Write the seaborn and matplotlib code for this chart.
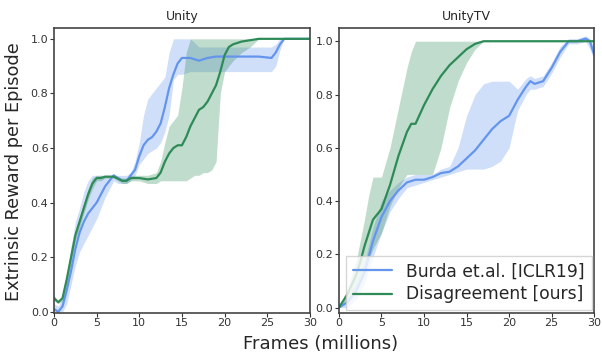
import pandas as pd
import seaborn as sns
import matplotlib.pyplot as plt

sns.set_style("ticks")
plt.rcParams['font.family'] = ['DejaVu Sans']

BLUE = "#6495ed"
GREEN = "#2e8b57"

# Unity - Burda et.al.
unity_burda_x = [0, 0.5, 1, 1.5, 2, 2.5, 3, 3.5, 4, 4.5, 5, 5.5, 6, 6.5, 7, 7.5, 8, 8.5, 9, 9.5, 10,
                 10.5, 11, 11.5, 12, 12.5, 13, 13.5, 14, 14.5, 15, 16, 17, 18, 19, 20, 22, 24, 25.5,
                 26, 26.5, 27, 28, 30]
unity_burda_mean = [0.01, 0.0, 0.02, 0.08, 0.15, 0.23, 0.29, 0.33, 0.36, 0.38, 0.40, 0.43, 0.46, 0.48,
                    0.50, 0.49, 0.48, 0.48, 0.50, 0.52, 0.57, 0.61, 0.63, 0.64, 0.66, 0.69, 0.75, 0.82,
                    0.87, 0.91, 0.93, 0.93, 0.92, 0.93, 0.935, 0.935, 0.935, 0.935, 0.93, 0.95, 0.98,
                    1.0, 1.0, 1.0]
unity_burda_lo = [0.0, 0.0, 0.0, 0.03, 0.1, 0.17, 0.22, 0.25, 0.28, 0.31, 0.34, 0.38, 0.42, 0.45, 0.48,
                  0.47, 0.47, 0.47, 0.48, 0.5, 0.54, 0.56, 0.58, 0.59, 0.6, 0.62, 0.66, 0.72, 0.85,
                  0.87, 0.87, 0.88, 0.88, 0.88, 0.88, 0.88, 0.88, 0.88, 0.88, 0.9, 0.96, 1.0, 1.0, 1.0]
unity_burda_hi = [0.03, 0.02, 0.05, 0.13, 0.24, 0.33, 0.38, 0.44, 0.48, 0.50, 0.50, 0.50, 0.50, 0.50,
                  0.50, 0.50, 0.50, 0.50, 0.51, 0.55, 0.62, 0.72, 0.78, 0.80, 0.82, 0.84, 0.86, 0.95,
                  1.0, 1.0, 1.0, 1.0, 0.97, 0.97, 0.97, 0.97, 0.97, 0.97, 0.97, 0.98, 1.0, 1.0, 1.0, 1.0]

# Unity - Disagreement
unity_dis_x = [0, 0.5, 1, 1.5, 2, 2.5, 3, 3.5, 4, 4.5, 5, 5.5, 6, 7, 8, 8.5, 9, 10, 11, 12, 12.5, 13,
               13.5, 14, 14.5, 15, 15.5, 16, 16.5, 17, 17.5, 18, 18.5, 19, 19.5, 20, 20.5, 21, 22,
               23, 24, 30]
unity_dis_mean = [0.05, 0.035, 0.05, 0.12, 0.2, 0.28, 0.33, 0.38, 0.43, 0.47, 0.49, 0.49, 0.495, 0.495,
                  0.48, 0.48, 0.49, 0.49, 0.485, 0.49, 0.51, 0.55, 0.58, 0.60, 0.61, 0.61, 0.64, 0.68,
                  0.71, 0.74, 0.75, 0.77, 0.80, 0.83, 0.88, 0.94, 0.97, 0.98, 0.99, 0.995, 1.0, 1.0]
unity_dis_lo = [0.04, 0.03, 0.04, 0.1, 0.18, 0.26, 0.31, 0.36, 0.41, 0.45, 0.48, 0.48, 0.49, 0.49, 0.47,
                0.47, 0.48, 0.48, 0.47, 0.47, 0.48, 0.48, 0.48, 0.48, 0.48, 0.48, 0.48, 0.49, 0.5, 0.5,
                0.51, 0.51, 0.52, 0.55, 0.8, 0.88, 0.9, 0.92, 0.95, 0.97, 1.0, 1.0]
unity_dis_hi = [0.06, 0.04, 0.06, 0.14, 0.22, 0.3, 0.35, 0.4, 0.45, 0.49, 0.5, 0.5, 0.5, 0.5, 0.49, 0.49,
                0.5, 0.5, 0.5, 0.51, 0.55, 0.62, 0.68, 0.70, 0.72, 0.82, 0.95, 1.0, 1.0, 1.0, 1.0, 1.0,
                1.0, 1.0, 1.0, 1.0, 1.0, 1.0, 1.0, 1.0, 1.0, 1.0]

# UnityTV - Burda et.al.
tv_burda_x = [0, 1, 2, 3, 4, 5, 6, 7, 8, 9, 10, 11, 12, 13, 14, 15, 16, 17, 18, 19, 20, 21, 22, 22.5,
              23, 24, 25, 26, 27, 28, 29, 29.5, 30]
tv_burda_mean = [0.0, 0.02, 0.06, 0.13, 0.25, 0.34, 0.40, 0.44, 0.47, 0.48, 0.48, 0.49, 0.505, 0.51,
                 0.53, 0.56, 0.59, 0.63, 0.67, 0.70, 0.72, 0.78, 0.83, 0.85, 0.84, 0.85, 0.90, 0.96,
                 1.0, 1.0, 1.01, 1.0, 0.95]
tv_burda_lo = [0.0, 0.0, 0.03, 0.09, 0.19, 0.28, 0.36, 0.41, 0.45, 0.46, 0.47, 0.48, 0.49, 0.5, 0.51,
               0.52, 0.52, 0.52, 0.53, 0.55, 0.6, 0.74, 0.80, 0.82, 0.82, 0.83, 0.88, 0.94, 0.99, 0.99,
               1.0, 0.97, 0.93]
tv_burda_hi = [0.0, 0.04, 0.09, 0.17, 0.3, 0.4, 0.44, 0.47, 0.49, 0.5, 0.5, 0.5, 0.52, 0.53, 0.6, 0.72,
               0.8, 0.84, 0.85, 0.85, 0.85, 0.82, 0.86, 0.87, 0.86, 0.87, 0.92, 0.98, 1.01, 1.01, 1.02,
               1.01, 0.98]

# UnityTV - Disagreement
tv_dis_x = [0, 1, 2, 2.5, 3, 3.5, 4, 5, 6, 7, 8, 8.5, 9, 10, 11, 12, 13, 14, 15, 16, 17, 30]
tv_dis_mean = [0.0, 0.05, 0.12, 0.17, 0.23, 0.28, 0.33, 0.37, 0.46, 0.57, 0.66, 0.69, 0.69, 0.76, 0.82,
               0.87, 0.91, 0.94, 0.97, 0.99, 1.0, 1.0]
tv_dis_lo = [0.0, 0.03, 0.06, 0.1, 0.14, 0.18, 0.22, 0.28, 0.38, 0.45, 0.5, 0.5, 0.5, 0.5, 0.5, 0.6,
             0.75, 0.85, 0.92, 0.97, 1.0, 1.0]
tv_dis_hi = [0.0, 0.07, 0.17, 0.25, 0.33, 0.42, 0.49, 0.49, 0.6, 0.75, 0.9, 0.96, 1.0, 1.0, 1.0, 1.0,
             1.0, 1.0, 1.0, 1.0, 1.0, 1.0]

panels = [
    ("Unity", (unity_burda_x, unity_burda_mean, unity_burda_lo, unity_burda_hi),
     (unity_dis_x, unity_dis_mean, unity_dis_lo, unity_dis_hi), (-0.004, 1.04)),
    ("UnityTV", (tv_burda_x, tv_burda_mean, tv_burda_lo, tv_burda_hi),
     (tv_dis_x, tv_dis_mean, tv_dis_lo, tv_dis_hi), (-0.02, 1.05)),
]

fig = plt.figure(figsize=(6.02, 3.58), dpi=100)
axes = [fig.add_axes([0.0897, 0.126, 0.425, 0.796]),
        fig.add_axes([0.563, 0.126, 0.424, 0.796])]

for ax, (title, burda, dis, ylim) in zip(axes, panels):
    for (x, m, lo, hi), color, name in [(burda, BLUE, "Burda et.al. [ICLR19]"),
                                        (dis, GREEN, "Disagreement [ours]")]:
        df = pd.DataFrame({"frames": x, "reward": m})
        ax.fill_between(x, lo, hi, color=color, alpha=0.3, linewidth=0)
        sns.lineplot(data=df, x="frames", y="reward", ax=ax, color=color, linewidth=1.6, label=name)
    ax.set_title(title, fontsize=9, pad=6)
    ax.set_xlim(0, 30)
    ax.set_ylim(*ylim)
    ax.set_xticks([0, 5, 10, 15, 20, 25, 30])
    ax.set_yticks([0.0, 0.2, 0.4, 0.6, 0.8, 1.0])
    ax.tick_params(labelsize=8, length=3, pad=1, colors="#333333")
    ax.set_xlabel("")
    ax.set_ylabel("")
    for s in ax.spines.values():
        s.set_color("#444444")
        s.set_linewidth(1.2)

axes[0].get_legend().remove()
axes[1].legend(loc="lower right", fontsize=12.3, frameon=True, handlelength=2.3,
               borderaxespad=0.15, labelspacing=0.3, handletextpad=0.8,
               fancybox=False, edgecolor="#cccccc")

fig.text(0.024, 0.52, "Extrinsic Reward per Episode", rotation=90, ha="center", va="center",
         fontsize=12.8)
fig.text(0.533, 0.04, "Frames (millions)", ha="center", va="center", fontsize=13)

fig.savefig("out.png", dpi=100)
plt.close()
